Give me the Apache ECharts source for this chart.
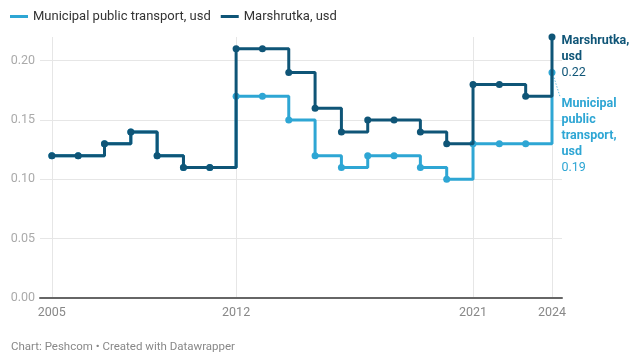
<!DOCTYPE html>
<html>
<head>
<meta charset="utf-8">
<script src="https://cdn.jsdelivr.net/npm/echarts@6/dist/echarts.min.js"></script>
<style>
  html, body { margin: 0; padding: 0; background: #fff; }
  #chart { width: 640px; height: 356px; }
</style>
</head>
<body>
<div id="chart"></div>
<script>
// Fare per trip, in US dollars
const years = [2005, 2006, 2007, 2008, 2009, 2010, 2011, 2012, 2013, 2014,
               2015, 2016, 2017, 2018, 2019, 2020, 2021, 2022, 2023, 2024];
const municipal = [0.12, 0.12, 0.13, 0.14, 0.12, 0.11, 0.11, 0.17, 0.17, 0.15,
                   0.12, 0.11, 0.12, 0.12, 0.11, 0.10, 0.13, 0.13, 0.13, 0.19];
const marshrutka = [0.12, 0.12, 0.13, 0.14, 0.12, 0.11, 0.11, 0.21, 0.21, 0.19,
                    0.16, 0.14, 0.15, 0.15, 0.14, 0.13, 0.18, 0.18, 0.17, 0.22];
const xTicks = [2005, 2012, 2021, 2024];
const yTicks = [0, 0.05, 0.10, 0.15, 0.20];

const names = ['Municipal public transport, usd', 'Marshrutka, usd'];
const colors = ['#2ea6d4', '#0f5577'];

const FONT = 'Roboto, "Noto Sans", sans-serif';
const footerText = 'Chart: Peshcom • Created with Datawrapper';

function pairs(values) {
  return years.map((y, i) => [y, values[i]]);
}

// Label at the last point: bold series name (one word per line), then the value
function endLabel(color, offsetY) {
  return {
    show: true,
    position: 'right',
    distance: 6,
    offset: [0, offsetY],
    fontFamily: FONT,
    lineHeight: 16,
    formatter: p => {
      const words = p.seriesName.split(' ');
      return words.map(w => '{b|' + w + '}').join('\n') + '\n{v|' + p.value[1].toFixed(2) + '}';
    },
    rich: {
      b: { fontWeight: 'bold', fontSize: 12.5, color: color, fontFamily: FONT, lineHeight: 16 },
      v: { fontSize: 12.5, color: color, fontFamily: FONT, lineHeight: 16 }
    }
  };
}

function makeSeries(idx, values, labelOffsetY) {
  const data = pairs(values);
  const last = data.length - 1;
  data[last] = { value: data[last], label: endLabel(colors[idx], labelOffsetY) };
  return {
    name: names[idx],
    type: 'line',
    step: 'end',
    data: data,
    symbol: 'circle',
    symbolSize: 7,
    lineStyle: { width: 3, color: colors[idx] },
    itemStyle: { color: colors[idx] },
    emphasis: { disabled: true },
    animation: false,
    z: 2 + idx
  };
}

const chart = echarts.init(document.getElementById('chart'), null, { renderer: 'canvas' });

const muniSeries = makeSeries(0, municipal, 63);
const marshSeries = makeSeries(1, marshrutka, 20);

const footer = {
  type: 'text',
  left: 11,
  top: 341,
  style: { text: footerText, fill: '#888', fontSize: 11.5, fontFamily: FONT }
};

chart.setOption({
  animation: false,
  textStyle: { fontFamily: FONT },
  legend: {
    left: 10,
    top: 10,
    padding: 0,
    itemWidth: 18,
    itemHeight: 3,
    itemGap: 10,
    icon: 'rect',
    textStyle: { fontSize: 13, color: '#333', fontFamily: FONT },
    data: names
  },
  grid: { left: 40, right: 78, top: 37, bottom: 58, containLabel: false },
  xAxis: {
    type: 'value',
    min: 2004.55,
    max: 2024.38,
    axisLine: { show: true, onZero: true, lineStyle: { color: '#666', width: 2 } },
    axisTick: { show: false, customValues: xTicks },
    axisLabel: {
      customValues: xTicks,
      color: '#888',
      fontSize: 12.5,
      margin: 8,
      fontFamily: FONT,
      formatter: v => String(v)
    },
    splitLine: { show: true, lineStyle: { color: '#e6e6e6', width: 1 } }
  },
  yAxis: {
    type: 'value',
    min: 0,
    max: 0.22,
    axisLine: { show: false },
    axisTick: { show: false, customValues: yTicks },
    axisLabel: {
      customValues: yTicks,
      color: '#aaa',
      fontSize: 12.5,
      margin: 5,
      fontFamily: FONT,
      formatter: v => v.toFixed(2)
    },
    splitLine: { show: true, lineStyle: { color: '#e6e6e6', width: 1 } }
  },
  series: [muniSeries, marshSeries],
  graphic: [footer]
});

// Dotted connector from the municipal end point towards its label
const endPt = chart.convertToPixel({ gridIndex: 0 }, [years[years.length - 1], municipal[municipal.length - 1]]);
chart.setOption({
  graphic: [footer, {
    type: 'line',
    shape: { x1: endPt[0] + 2, y1: endPt[1] + 5, x2: endPt[0] + 8, y2: endPt[1] + 24 },
    style: { stroke: '#6cbfe0', lineWidth: 1, lineDash: [1.5, 1.5] },
    z: 1
  }]
});
</script>
</body>
</html>
